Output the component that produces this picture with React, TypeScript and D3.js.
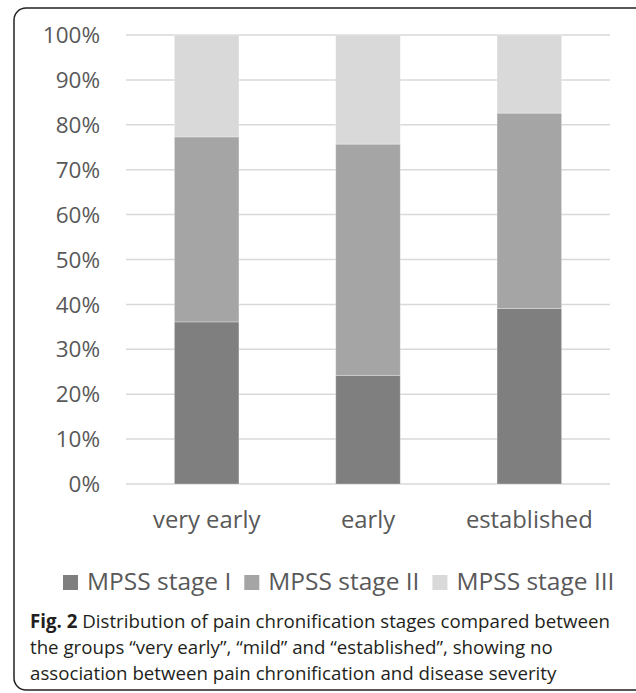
import { useRef, useEffect } from 'react';
import * as d3 from 'd3';

const categories = ['very early', 'early', 'established'];
const seriesNames = ['MPSS stage I', 'MPSS stage II', 'MPSS stage III'];
const stageI = [36.1, 24.2, 39.1];
const stageII = [41.2, 51.5, 43.5];
const stageIII = [22.7, 24.3, 17.4];
const yTicks = [0, 10, 20, 30, 40, 50, 60, 70, 80, 90, 100];
const colors = ['#7f7f7f', '#a5a5a5', '#d9d9d9'];
const captionLines = [
  ' Distribution of pain chronification stages compared between',
  'the groups \u201cvery early\u201d, \u201cmild\u201d and \u201cestablished\u201d, showing no',
  'association between pain chronification and disease severity',
];

export default function App() {
  const svgRef = useRef<SVGSVGElement>(null);

  useEffect(() => {
    if (!svgRef.current) return;
    const svg = d3.select(svgRef.current);
    svg.selectAll('*').remove();

    const width = 636;
    const height = 693;
    const plot = { left: 126, right: 610, top: 35, bottom: 484 };
    const axisFont = '"Open Sans", sans-serif';

    svg.attr('viewBox', `0 0 ${width} ${height}`);

    // Frame
    svg.append('rect')
      .attr('x', 14).attr('y', 8)
      .attr('width', 640).attr('height', 682)
      .attr('rx', 12)
      .attr('fill', 'white')
      .attr('stroke', '#222').attr('stroke-width', 1.5);

    const x = d3.scaleBand<string>().domain(categories).range([plot.left, plot.right]).paddingInner(0.6).paddingOuter(0.3);
    const y = d3.scaleLinear().domain([0, 100]).range([plot.bottom, plot.top]);

    // Grid
    svg.append('g')
      .selectAll('line')
      .data(yTicks)
      .join('line')
      .attr('x1', plot.left).attr('x2', plot.right)
      .attr('y1', (d) => y(d)).attr('y2', (d) => y(d))
      .attr('stroke', '#d9d9d9').attr('stroke-width', 1.5);

    // Y labels
    svg.append('g')
      .selectAll('text')
      .data(yTicks)
      .join('text')
      .attr('x', 100)
      .attr('y', (d) => y(d))
      .attr('dy', '0.36em')
      .attr('text-anchor', 'end')
      .attr('fill', '#595959')
      .style('font-family', axisFont)
      .style('font-size', '22.5px')
      .text((d) => `${d}%`);

    // Stacked bars
    const rows = categories.map((c, i) => ({ cat: c, s0: stageI[i], s1: stageII[i], s2: stageIII[i] }));
    const stack = d3.stack<any>().keys(['s0', 's1', 's2']);
    const layers = stack(rows);

    layers.forEach((layer, li) => {
      svg.append('g')
        .selectAll('rect')
        .data(layer)
        .join('rect')
        .attr('x', (d: any) => x(d.data.cat)!)
        .attr('width', x.bandwidth())
        .attr('y', (d) => y(d[1]))
        .attr('height', (d) => y(d[0]) - y(d[1]))
        .attr('fill', colors[li])
        .attr('stroke', 'rgba(255,255,255,0.35)')
        .attr('stroke-width', 0.8);
    });

    // X labels
    svg.append('g')
      .selectAll('text')
      .data(categories)
      .join('text')
      .attr('x', (d) => x(d)! + x.bandwidth() / 2)
      .attr('y', 528)
      .attr('text-anchor', 'middle')
      .attr('fill', '#595959')
      .style('font-family', axisFont)
      .style('font-size', '23.8px')
      .text((d) => d);

    // Legend
    const legend = svg.append('g').attr('transform', 'translate(63, 590)');
    let lx = 0;
    seriesNames.forEach((name, i) => {
      legend.append('rect')
        .attr('x', lx).attr('y', -15)
        .attr('width', 15).attr('height', 15)
        .attr('fill', colors[i]);
      const t = legend.append('text')
        .attr('x', lx + 24).attr('y', 0)
        .attr('fill', '#595959')
        .style('font-family', axisFont)
        .style('font-size', '24.5px')
        .text(name);
      const w = (t.node() as SVGTextElement).getComputedTextLength();
      lx += 24 + w + 13;
    });

    // Caption
    const cap = svg.append('text')
      .attr('fill', '#231f20')
      .style('font-family', '"Open Sans", sans-serif')
      .style('font-size', '18.7px');
    captionLines.forEach((line, i) => {
      const ts = cap.append('tspan').attr('x', 30).attr('y', 628 + i * 26);
      if (i === 0) {
        ts.append('tspan').style('font-weight', 'bold').text('Fig. 2');
        ts.append('tspan').text(line);
      } else {
        ts.text(line);
      }
    });
  }, []);

  return (
    <div style={{ position: 'absolute', left: 0, top: 0, width: 636, height: 693, overflow: 'hidden' }}>
      <svg ref={svgRef} width={636} height={693} style={{ display: 'block' }} />
    </div>
  );
}
